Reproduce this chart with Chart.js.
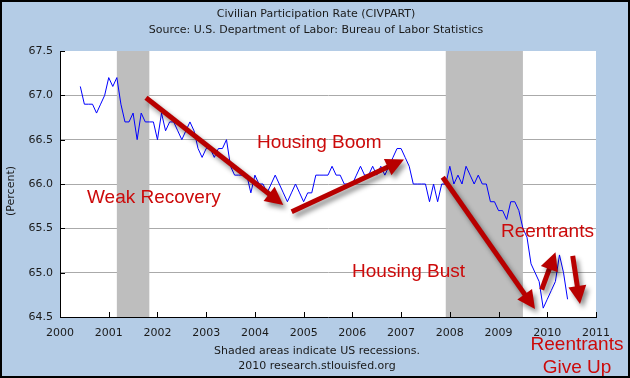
<!DOCTYPE html>
<html><head><meta charset="utf-8">
<script src="https://cdn.jsdelivr.net/npm/chart.js@4.4.0/dist/chart.umd.min.js"></script>
<style>html,body{margin:0;padding:0;background:#b4cce6;}canvas{display:block;}</style>
</head><body>
<canvas id="c" width="630" height="378"></canvas>
<script>
// ---- data ----
const startYear = 2000;
const startMonth = 6; // June 2000
const civpart = [
  // 2000 (Jun-Dec)
  67.1, 66.9, 66.9, 66.9, 66.8, 66.9, 67.0,
  // 2001
  67.2, 67.1, 67.2, 66.9, 66.7, 66.7, 66.8, 66.5, 66.8, 66.7, 66.7, 66.7,
  // 2002
  66.5, 66.8, 66.6, 66.7, 66.7, 66.6, 66.5, 66.6, 66.7, 66.6, 66.4, 66.3,
  // 2003
  66.4, 66.4, 66.3, 66.4, 66.4, 66.5, 66.2, 66.1, 66.1, 66.1, 66.1, 65.9,
  // 2004
  66.1, 66.0, 66.0, 65.9, 66.0, 66.1, 66.0, 65.9, 65.8, 65.9, 66.0, 65.9,
  // 2005
  65.8, 65.9, 65.9, 66.1, 66.1, 66.1, 66.1, 66.2, 66.1, 66.1, 66.0, 66.0,
  // 2006
  66.0, 66.1, 66.2, 66.1, 66.1, 66.2, 66.1, 66.2, 66.1, 66.2, 66.3, 66.4,
  // 2007
  66.4, 66.3, 66.2, 66.0, 66.0, 66.0, 66.0, 65.8, 66.0, 65.8, 66.0, 66.0,
  // 2008
  66.2, 66.0, 66.1, 66.0, 66.2, 66.1, 66.0, 66.1, 66.0, 66.0, 65.8, 65.8,
  // 2009
  65.7, 65.7, 65.6, 65.8, 65.8, 65.7, 65.5, 65.4, 65.1, 65.0, 64.9, 64.6,
  // 2010 (Jan-Jun)
  64.7, 64.8, 64.9, 65.2, 65.0, 64.7
];
const xTicks = [2000, 2001, 2002, 2003, 2004, 2005, 2006, 2007, 2008, 2009, 2010, 2011];
const yTicks = [64.5, 65.0, 65.5, 66.0, 66.5, 67.0, 67.5];
const recessionStarts = [2001 + 2/12, 2007 + 11/12];
const recessionEnds   = [2001 + 10/12, 2009 + 6/12];

const titleLines = ['Civilian Participation Rate (CIVPART)', 'Source: U.S. Department of Labor: Bureau of Labor Statistics'];
const footerLines = ['Shaded areas indicate US recessions.', '2010 research.stlouisfed.org'];

// annotations in data coordinates
const arrowList = [
  [2001.765, 66.973, 2004.583, 65.763],
  [2004.755, 65.688, 2007.060, 66.276],
  [2007.854, 66.076, 2009.748, 64.590],
  [2009.886, 64.808, 2010.169, 65.231],
  [2010.522, 65.188, 2010.672, 64.647]
];
const textNotes = [
  {text: 'Weak Recovery', x: 2000.554, y: 65.786, align: 'left'},
  {text: 'Housing Boom', x: 2004.043, y: 66.406, align: 'left'},
  {text: 'Housing Bust', x: 2005.993, y: 64.951, align: 'left'},
  {text: 'Reentrants', x: 2009.050, y: 65.402, align: 'left'},
  {text: 'Reentrants', x: 2010.610, y: 64.128, align: 'center'},
  {text: 'Give Up', x: 2010.610, y: 63.868, align: 'center'}
];

const points = civpart.map((v, i) => ({x: startYear + (startMonth - 1 + i) / 12, y: v}));

const BG = '#b4cce6';
const SANS = '"DejaVu Sans", Verdana, sans-serif';
const ARIAL = '"Liberation Sans", Arial, sans-serif';

const decor = {
  id: 'decor',
  beforeDraw(chart) {
    const {ctx, chartArea: a} = chart;
    ctx.save();
    ctx.fillStyle = BG;
    ctx.fillRect(0, 0, chart.width, chart.height);
    ctx.fillStyle = '#ffffff';
    ctx.fillRect(a.left, a.top, a.right - a.left, a.bottom - a.top);
    ctx.restore();
  },
  beforeDatasetsDraw(chart) {
    const {ctx, chartArea: a, scales: {x}} = chart;
    ctx.save();
    ctx.fillStyle = '#bebebe';
    recessionStarts.forEach((s, i) => {
      const x0 = x.getPixelForValue(s), x1 = x.getPixelForValue(recessionEnds[i]);
      ctx.fillRect(x0, a.top, x1 - x0, a.bottom - a.top);
    });
    ctx.restore();
  },
  afterDatasetsDraw(chart) {
    const {ctx, chartArea: a, scales: {x, y}} = chart;
    ctx.save();
    // inner tick marks
    ctx.strokeStyle = '#000';
    ctx.lineWidth = 1;
    ctx.beginPath();
    yTicks.forEach(v => {
      const py = Math.round(y.getPixelForValue(v)) + 0.5;
      ctx.moveTo(a.left, py); ctx.lineTo(a.left + 5, py);
    });
    xTicks.forEach(v => {
      const px = Math.round(x.getPixelForValue(v)) + 0.5;
      ctx.moveTo(px, a.bottom); ctx.lineTo(px, a.bottom - 5);
    });
    ctx.stroke();

    // arrows
    ctx.shadowColor = 'rgba(0,0,0,0.45)';
    ctx.shadowBlur = 5;
    ctx.shadowOffsetX = 3;
    ctx.shadowOffsetY = 4;
    ctx.fillStyle = '#b80000';
    ctx.strokeStyle = '#b80000';
    arrowList.forEach(([x0v, y0v, x1v, y1v]) => {
      const x0 = x.getPixelForValue(x0v), y0 = y.getPixelForValue(y0v);
      const x1 = x.getPixelForValue(x1v), y1 = y.getPixelForValue(y1v);
      const ang = Math.atan2(y1 - y0, x1 - x0);
      const hl = 18, hw = 9;
      const bx = x1 - hl * Math.cos(ang), by = y1 - hl * Math.sin(ang);
      ctx.lineWidth = 5;
      ctx.lineCap = 'butt';
      ctx.beginPath();
      ctx.moveTo(x0, y0); ctx.lineTo(bx + Math.cos(ang) * 2, by + Math.sin(ang) * 2);
      ctx.stroke();
      ctx.beginPath();
      ctx.moveTo(x1, y1);
      ctx.lineTo(bx + hw * Math.sin(ang), by - hw * Math.cos(ang));
      ctx.lineTo(bx - hw * Math.sin(ang), by + hw * Math.cos(ang));
      ctx.closePath();
      ctx.fill();
    });
    ctx.shadowColor = 'transparent';
    ctx.shadowBlur = 0; ctx.shadowOffsetX = 0; ctx.shadowOffsetY = 0;

    // red notes
    ctx.fillStyle = '#cc0a0a';
    ctx.font = '19px ' + ARIAL;
    ctx.textBaseline = 'alphabetic';
    textNotes.forEach(n => {
      ctx.textAlign = n.align;
      ctx.fillText(n.text, x.getPixelForValue(n.x), y.getPixelForValue(n.y));
    });

    // titles & footer
    ctx.fillStyle = '#1a1a1a';
    ctx.font = '11px ' + SANS;
    ctx.textAlign = 'center';
    ctx.textBaseline = 'middle';
    ctx.fillText(titleLines[0], 316, 14);
    ctx.fillText(titleLines[1], 316, 30);
    ctx.fillText(footerLines[0], 317, 351);
    ctx.fillText(footerLines[1], 317, 366);
    // y axis title
    ctx.save();
    ctx.translate(11, 191);
    ctx.rotate(-Math.PI / 2);
    ctx.fillText('(Percent)', 0, 0);
    ctx.restore();
    ctx.restore();
  },
  afterDraw(chart) {
    const {ctx} = chart;
    ctx.save();
    ctx.strokeStyle = '#000';
    ctx.lineWidth = 2;
    ctx.strokeRect(1, 1, chart.width - 2, chart.height - 2);
    ctx.restore();
  }
};

new Chart(document.getElementById('c'), {
  type: 'line',
  data: {
    datasets: [{
      data: points,
      borderColor: '#0000ff',
      borderWidth: 1,
      pointRadius: 0,
      tension: 0,
      fill: false
    }]
  },
  options: {
    responsive: false,
    animation: false,
    devicePixelRatio: 1,
    layout: {padding: {top: 51, right: 34, left: 0, bottom: 0}},
    plugins: {legend: {display: false}, tooltip: {enabled: false}, title: {display: false}},
    scales: {
      x: {
        type: 'linear',
        min: 2000, max: 2011,
        afterBuildTicks: s => { s.ticks = xTicks.map(v => ({value: v})); },
        afterFit: s => { s.height = 61; },
        ticks: {
          autoSkip: false, maxRotation: 0, padding: 10,
          color: '#1a1a1a', font: {family: SANS, size: 11},
          callback: v => String(v)
        },
        grid: {display: false, drawTicks: false},
        border: {display: true, color: '#000', width: 1}
      },
      y: {
        min: 64.5, max: 67.5,
        afterBuildTicks: s => { s.ticks = yTicks.map(v => ({value: v})); },
        afterFit: s => { s.width = 60; },
        ticks: {
          padding: 7,
          color: '#1a1a1a', font: {family: SANS, size: 11},
          callback: v => v.toFixed(1)
        },
        grid: {
          drawTicks: false,
          color: c => (c.tick && (c.tick.value === 64.5 || c.tick.value === 67.5)) ? 'rgba(0,0,0,0)' : '#aaaaaa'
        },
        border: {display: true, color: '#000', width: 1}
      }
    }
  },
  plugins: [decor]
});
</script>
</body></html>
